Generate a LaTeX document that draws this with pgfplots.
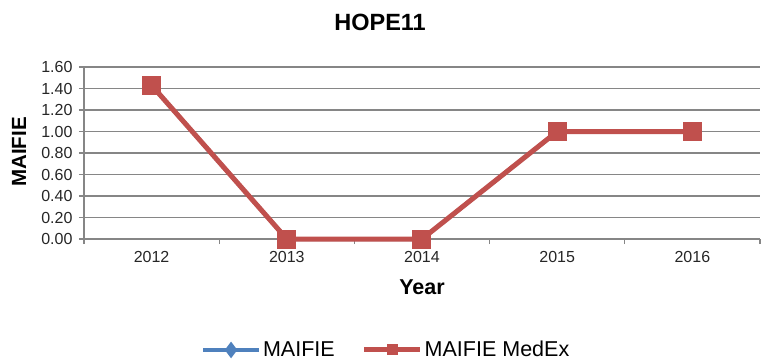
\documentclass[border=0pt]{standalone}
\usepackage{fontspec}
\setmainfont{Liberation Sans}
\usepackage{pgfplots}
\pgfplotsset{compat=1.18}
\definecolor{exred}{HTML}{C0504D}
\definecolor{exblue}{HTML}{4F81BD}
\definecolor{gridgray}{HTML}{868686}
\begin{document}
\begin{tikzpicture}
\useasboundingbox (0,0) rectangle (761pt,362pt);
\begin{axis}[
  at={(84pt,123pt)}, anchor=south west,
  scale only axis, width=676pt, height=172pt,
  xmin=-0.5, xmax=4.5, ymin=0, ymax=1.6,
  clip=false,
  axis lines=left,
  axis line style={-, draw=gridgray, line width=1.5pt},
  every outer x axis line/.append style={-},
  every outer y axis line/.append style={-},
  /pgf/number format/assume math mode=true,
  ytick={0,0.2,0.4,0.6,0.8,1.0,1.2,1.4,1.6},
  yticklabel style={/pgf/number format/fixed, /pgf/number format/fixed zerofill, /pgf/number format/precision=2, xshift=-3pt},
  xticklabel style={yshift=-9pt},
  ymajorgrids,
  grid style={draw=gridgray, line width=1.5pt},
  xtick={-0.5,0.5,1.5,2.5,3.5,4.5},
  xticklabels={},
  extra x ticks={0,1,2,3,4},
  extra x tick labels={2012,2013,2014,2015,2016},
  extra x tick style={major tick length=0pt, grid=none},
  tick align=outside,
  major tick length=5pt,
  tick style={draw=gridgray, line width=1.2pt},
  tick label style={font=\fontsize{16}{19}\selectfont, text=black!85},
  title={HOPE11},
  title style={at={(axis description cs:0.438,1.225)}, anchor=center, font=\bfseries\fontsize{23.5}{28}\selectfont},
  xlabel={Year},
  xlabel style={at={(axis description cs:0.5,-0.279)}, anchor=center, font=\bfseries\fontsize{21.5}{25}\selectfont},
  ylabel={MAIFIE},
  ylabel style={at={(axis description cs:-0.096,0.506)}, anchor=center, font=\bfseries\fontsize{20.5}{24}\selectfont},
  legend columns=2,
  legend style={at={(axis description cs:0.447,-0.645)}, anchor=center, draw=none, font=\fontsize{21.5}{25}\selectfont,
    /tikz/every even column/.append style={column sep=25pt}},
  legend image code/.code={\draw[mark repeat=2, mark phase=2, #1, mark size=5pt] plot coordinates {(0pt,0pt) (28pt,0pt) (56pt,0pt)};},
]
\addplot[color=exblue, line width=4pt, mark=diamond*, mark size=5pt, mark options={fill=exblue}]
  coordinates {(0,1.43) (1,0) (2,0) (3,1.0) (4,1.0)};
\addlegendentry{MAIFIE}
\addplot[color=exred, line width=5pt, mark=square*, mark size=9pt, mark options={fill=exred, line width=0pt}]
  coordinates {(0,1.43) (1,0) (2,0) (3,1.0) (4,1.0)};
\addlegendentry{MAIFIE MedEx}
\end{axis}
\end{tikzpicture}
\end{document}
